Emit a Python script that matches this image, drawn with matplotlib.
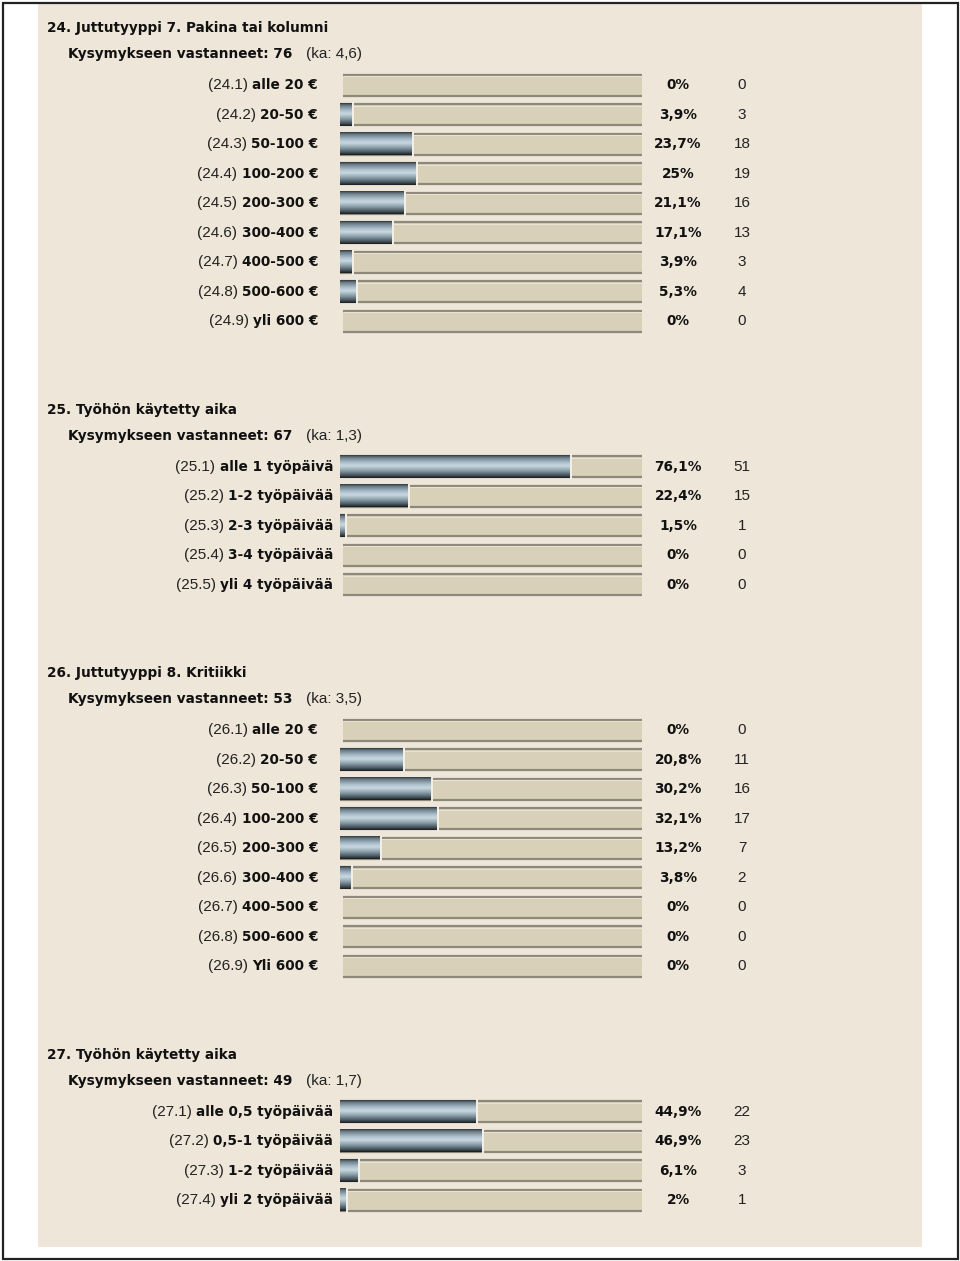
import numpy as np
import matplotlib
matplotlib.use("Agg")
import matplotlib.pyplot as plt
from matplotlib.colors import LinearSegmentedColormap
from matplotlib.patches import Rectangle

plt.rcParams['font.family'] = ['Liberation Sans', 'DejaVu Sans']

# --- data ---
titles = ["24. Juttutyyppi 7. Pakina tai kolumni",
          "25. Työhön käytetty aika",
          "26. Juttutyyppi 8. Kritiikki",
          "27. Työhön käytetty aika"]
answered = [76, 67, 53, 49]
means = ["4,6", "1,3", "3,5", "1,7"]

q24_labels = ["alle 20 €", "20-50 €", "50-100 €", "100-200 €", "200-300 €",
              "300-400 €", "400-500 €", "500-600 €", "yli 600 €"]
q24_pct = [0, 3.9, 23.7, 25, 21.1, 17.1, 3.9, 5.3, 0]
q24_n = [0, 3, 18, 19, 16, 13, 3, 4, 0]

q25_labels = ["alle 1 työpäivä", "1-2 työpäivää", "2-3 työpäivää",
              "3-4 työpäivää", "yli 4 työpäivää"]
q25_pct = [76.1, 22.4, 1.5, 0, 0]
q25_n = [51, 15, 1, 0, 0]

q26_labels = ["alle 20 €", "20-50 €", "50-100 €", "100-200 €", "200-300 €",
              "300-400 €", "400-500 €", "500-600 €", "Yli 600 €"]
q26_pct = [0, 20.8, 30.2, 32.1, 13.2, 3.8, 0, 0, 0]
q26_n = [0, 11, 16, 17, 7, 2, 0, 0, 0]

q27_labels = ["alle 0,5 työpäivää", "0,5-1 työpäivää", "1-2 työpäivää",
              "yli 2 työpäivää"]
q27_pct = [44.9, 46.9, 6.1, 2]
q27_n = [22, 23, 3, 1]

sections = [(titles[0], answered[0], means[0], q24_labels, q24_pct, q24_n),
            (titles[1], answered[1], means[1], q25_labels, q25_pct, q25_n),
            (titles[2], answered[2], means[2], q26_labels, q26_pct, q26_n),
            (titles[3], answered[3], means[3], q27_labels, q27_pct, q27_n)]

W, H = 960, 1261
fig = plt.figure(figsize=(W / 100, H / 100), dpi=100)
fig.patch.set_facecolor("white")
ax = fig.add_axes([0, 0, 1, 1])
ax.set_xlim(0, W)
ax.set_ylim(H, 0)
ax.axis("off")

bg = "#eee6d8"
ax.add_patch(Rectangle((38, 4), 884, 1243, facecolor=bg, edgecolor="none"))
ax.add_patch(Rectangle((2.5, 2.5), 955, 1256, facecolor="none",
                       edgecolor="#222222", lw=1.6))

metal = LinearSegmentedColormap.from_list("metal", [
    (0.0, "#30383d"), (0.1, "#6c7e89"), (0.33, "#aec1cd"),
    (0.47, "#c9d8e1"), (0.68, "#8a9ea9"), (0.88, "#4a575f"), (1.0, "#181c1f")])
grad = np.linspace(0, 1, 64).reshape(-1, 1)

bar_x0, bar_x1 = 340, 642
bar_w = bar_x1 - bar_x0
bar_h = 23
row_gap = 29.5
txt = "#111111"
bold_kw = dict(fontsize=9.8, fontweight="bold", color=txt,
               family=["DejaVu Sans"])
norm_kw = dict(fontsize=11, color="#222222", family=["Liberation Sans"])
base = 4.4  # baseline offset below row centre

renderer = fig.canvas.get_renderer()
prefixes = []

y = 28
for title, n_ans, ka, labels, pct, cnt in sections:
    num = title.split(".")[0]
    ax.text(47, y + base, title, va="baseline", ha="left", **bold_kw)
    ax.text(68, y + 26 + base, "Kysymykseen vastanneet: %d" % n_ans,
            va="baseline", **bold_kw)
    ax.text(306, y + 26 + base, "(ka: %s)" % ka, va="baseline", **norm_kw)
    label_right = 318 if "€" in labels[0] else 333
    for i, (lab, p, c) in enumerate(zip(labels, pct, cnt)):
        yc = y + 57 + i * row_gap
        top, bot = yc - bar_h / 2, yc + bar_h / 2
        # track
        x_start = bar_x0 if p > 0 else bar_x0 + 3
        ax.add_patch(Rectangle((x_start, top), bar_x1 - x_start, bar_h,
                               facecolor="#d8d0b9", edgecolor="none"))
        ax.plot([x_start, bar_x1], [top + 1, top + 1], color="#8e887a", lw=1.6,
                solid_capstyle="butt")
        ax.plot([x_start, bar_x1], [top + 2.6, top + 2.6], color="#e9e2d0",
                lw=0.8, solid_capstyle="butt")
        ax.plot([x_start, bar_x1], [bot - 1, bot - 1], color="#8e887a", lw=1.6,
                solid_capstyle="butt")
        if p > 0:
            fw = bar_w * p / 100.0
            ax.imshow(grad, cmap=metal, aspect="auto", interpolation="bilinear",
                      extent=[bar_x0, bar_x0 + fw, bot, top], zorder=3)
            ax.plot([bar_x0 + fw + 1, bar_x0 + fw + 1], [top, bot],
                    color="#f4f0e6", lw=1.4, zorder=4)
        bold = ax.text(label_right, yc + base, lab, va="baseline", ha="right",
                       **bold_kw)
        prefixes.append((bold, "(%s.%d) " % (num, i + 1), yc + base))
        ps = ("%d%%" % p) if float(p).is_integer() else \
            ("%.1f%%" % p).replace(".", ",")
        ax.text(678, yc + base, ps, va="baseline", ha="center", **bold_kw)
        ax.text(742, yc + base, str(c), va="baseline", ha="center", **norm_kw)
    y = y + 57 + (len(labels) - 1) * row_gap + 88.5

# place the "(nn.k)" prefixes just left of the bold labels
for bold, pre, yb in prefixes:
    bb = bold.get_window_extent(renderer)
    x_left = ax.transData.inverted().transform((bb.x0, 0))[0]
    ax.text(x_left - 4, yb, pre.strip(), va="baseline", ha="right", **norm_kw)

ax.set_xlim(0, W)
ax.set_ylim(H, 0)
fig.savefig("out.png", dpi=100, facecolor="white")
